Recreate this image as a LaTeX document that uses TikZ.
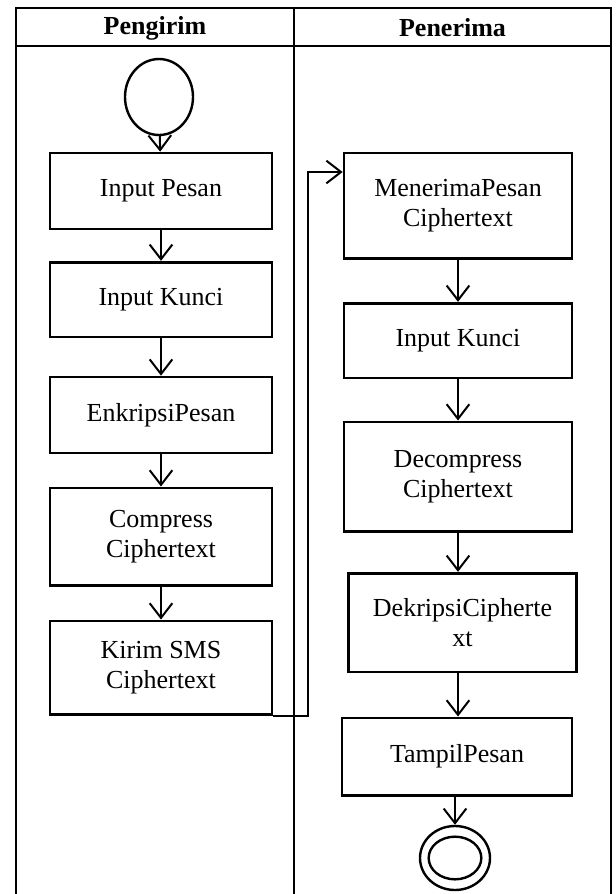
\documentclass[tikz,border=0pt]{standalone}
\usepackage{fontspec}
\setmainfont{Liberation Serif}
\usepackage{tikz}
\usetikzlibrary{calc,positioning,arrows.meta,shapes}

\begin{document}
\begin{tikzpicture}[x=0.75pt, y=-0.75pt]
\tikzstyle{every node}=[font=\fontsize{19.5}{22.5}\selectfont, align=center]
\tikzstyle{aksi}=[rectangle, draw, line width=2pt, inner sep=2pt]
\tikzstyle{kiri}=[aksi, minimum width=166.5pt]
\tikzstyle{kanan}=[aksi, minimum width=171pt]
\tikzstyle{panah}=[line width=1.5pt, -{Straight Barb[length=11pt, width=17pt, line width=1.5pt]}]
\tikzstyle{garis}=[line width=1.6pt]
\useasboundingbox (0,0) rectangle (616,894);
% swimlane
\draw[garis] (16,894) -- (16,8) -- (611,8) -- (611,894);
\draw[garis] (16,46) -- (611,46);
\draw[garis] (294,8) -- (294,894);
\node (hkiri) at (155,28) {\bfseries Pengirim};
\node (hkanan) at (452.5,28) {\bfseries Penerima};
% pengirim
\node[ellipse, draw, line width=1.8pt, minimum width=51pt, minimum height=57pt] (mulai) at (159,97) {};
\node[kiri, minimum height=57pt] (pesan) at (161,191) {Input Pesan};
\node[kiri, minimum height=56pt] (kunci) at (161,299.5) {Input Kunci};
\node[kiri, minimum height=57pt] (enkripsi) at (161,415) {EnkripsiPesan};
\node[kiri, minimum height=73pt] (compress) at (161,536.5) {Compress\\Ciphertext};
\node[kiri, minimum height=70pt] (kirim) at (161,667.5) {Kirim SMS\\Ciphertext};
% penerima
\node[kanan, minimum height=79pt] (terima) at (458,205.5) {MenerimaPesan\\Ciphertext};
\node[kanan, minimum height=56pt] (kunci2) at (458,340.5) {Input Kunci};
\node[kanan, minimum height=82pt] (decompress) at (458,476.5) {Decompress\\Ciphertext};
\node[kanan, minimum height=74pt] (dekripsi) at (462.5,622.5) {DekripsiCipherte\\xt};
\node[aksi, minimum width=172.5pt, minimum height=58pt] (tampil) at (457,756.5) {TampilPesan};
\node[ellipse, draw, line width=1.8pt, minimum width=52.5pt, minimum height=48pt] (selesai) at (455,858) {};
\node[ellipse, draw, line width=1.8pt, minimum width=39.5pt, minimum height=32pt] at (selesai) {};
\coordinate (naik) at (308,172);
% alur
\draw[panah] (mulai) -- (pesan);
\draw[panah] (pesan) -- (kunci);
\draw[panah] (kunci) -- (enkripsi);
\draw[panah] (enkripsi) -- (compress);
\draw[panah] (compress) -- (kirim);
\draw[panah] (kirim.south east) -| (naik) -- (naik -| terima.west);
\draw[panah] (terima.south) -- (terima.south |- kunci2.north);
\draw[panah] (kunci2.south) -- (kunci2.south |- decompress.north);
\draw[panah] (decompress.south) -- (decompress.south |- dekripsi.north);
\draw[panah] (decompress.south |- dekripsi.south) -- (decompress.south |- tampil.north);
\draw[panah] (tampil.south -| selesai) -- (selesai.north);
\end{tikzpicture}
\end{document}
